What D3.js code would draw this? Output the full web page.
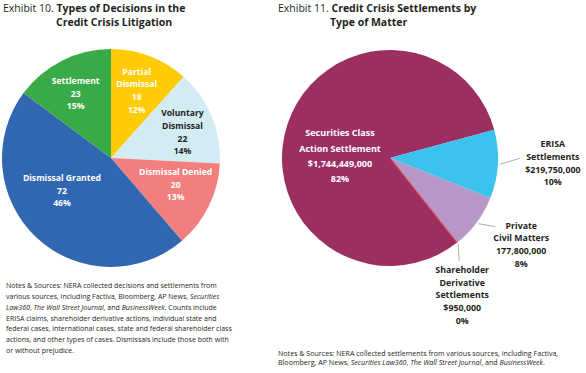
<!DOCTYPE html>
<html>
<head>
<meta charset="utf-8">
<script src="https://cdn.jsdelivr.net/npm/d3@7"></script>
<style>
  body { margin: 0; background: #fff; }
  svg text { font-family: "Open Sans", sans-serif; }
</style>
</head>
<body>
<script>
var w = 586;
var h = 373;

// Exhibit 10 data
var decisionTypes = ["Partial Dismissal", "Voluntary Dismissal", "Dismissal Denied", "Dismissal Granted", "Settlement"];
var decisionCounts = [18, 22, 20, 72, 23];
var decisionPcts = ["12%", "14%", "13%", "46%", "15%"];
var decisionLabels = [["Partial", "Dismissal"], ["Voluntary", "Dismissal"], ["Dismissal Denied"], ["Dismissal Granted"], ["Settlement"]];
var decisionColors = ["#FFCB05", "#D3EBF3", "#F27F7D", "#3067B0", "#39AA48"];
var decisionTextColors = ["#fff", "#231F20", "#fff", "#fff", "#fff"];

// Exhibit 11 data
var matterTypes = ["Securities Class Action Settlement", "ERISA Settlements", "Private Civil Matters", "Shareholder Derivative Settlements"];
var matterValues = [1744449000, 219750000, 177800000, 950000];
var matterPcts = ["82%", "10%", "8%", "0%"];
var matterLabels = [["Securities Class", "Action Settlement", "$1,744,449,000"], ["ERISA", "Settlements", "$219,750,000"], ["Private", "Civil Matters", "177,800,000"], ["Shareholder", "Derivative", "Settlements", "$950,000"]];
var matterColors = ["#9B2F62", "#3BC3EE", "#B697C7", "#E2404B"];

var notesLeft = [
  [["Notes & Sources: NERA collected decisions and settlements from", 0]],
  [["various sources, including Factiva, Bloomberg, AP News, ", 0], ["Securities", 1]],
  [["Law360", 1], [", ", 0], ["The Wall Street Journal", 1], [", and ", 0], ["BusinessWeek", 1], [". Counts include", 0]],
  [["ERISA claims, shareholder derivative actions, individual state and", 0]],
  [["federal cases, international cases, state and federal shareholder class", 0]],
  [["actions, and other types of cases. Dismissals include those both with", 0]],
  [["or without prejudice.", 0]]
];
var notesRight = [
  [["Notes & Sources: NERA collected settlements from various sources, including Factiva,", 0]],
  [["Bloomberg, AP News, ", 0], ["Securities Law360", 1], [", ", 0], ["The Wall Street Journal", 1], [", and ", 0], ["BusinessWeek", 1], [".", 0]]
];

var svg = d3.select("body").append("svg")
  .attr("width", w)
  .attr("height", h);

function textBlock(g, lines, cx, cy, lh, color, size) {
  var t = g.append("text")
    .attr("text-anchor", "middle")
    .attr("font-weight", "bold")
    .attr("font-size", size)
    .attr("fill", color);
  var y0 = cy - (lines.length - 1) * lh / 2;
  lines.forEach(function(l, i) {
    t.append("tspan")
      .attr("x", cx)
      .attr("y", y0 + i * lh)
      .attr("dy", "0.35em")
      .text(l);
  });
  return t;
}

function notes(lines, x, y, lh, size) {
  lines.forEach(function(parts, i) {
    var t = svg.append("text")
      .attr("x", x)
      .attr("y", y + i * lh)
      .attr("dy", "0.35em")
      .attr("font-size", size)
      .attr("fill", "#231F20");
    parts.forEach(function(p) {
      t.append("tspan").attr("font-style", p[1] ? "italic" : "normal").text(p[0]);
    });
  });
}

function title(x1, x2, y, a, b, c) {
  var t = svg.append("text").attr("font-size", 10.5).attr("fill", "#231F20");
  t.append("tspan").attr("x", x1).attr("y", y).text(a);
  t.append("tspan").attr("font-weight", "bold").text(" " + b);
  t.append("tspan").attr("font-weight", "bold").attr("x", x2).attr("y", y + 14.5).text(c);
}

// ---------- Exhibit 10 ----------
title(3, 56, 11.5, "Exhibit 10.", "Types of Decisions in the", "Credit Crisis Litigation");

var r1 = 109;
var pie1 = d3.pie().sort(null)(decisionCounts);
var arc1 = d3.arc().innerRadius(0).outerRadius(r1);
var labelArc1 = d3.arc().innerRadius(72).outerRadius(72);
var nudge1 = [[0, 0], [5, 2], [0, -5], [0, -20], [-3, 0]];

var g1 = svg.append("g").attr("transform", "translate(111,158)");
g1.selectAll("path.slice")
  .data(pie1).enter()
  .append("path")
  .attr("class", "slice")
  .attr("d", arc1)
  .attr("fill", function(d, i) { return decisionColors[i]; });

pie1.forEach(function(d, i) {
  var c = labelArc1.centroid(d);
  var lines = decisionLabels[i].concat([String(decisionCounts[i]), decisionPcts[i]]);
  textBlock(g1, lines, c[0] + nudge1[i][0], c[1] + nudge1[i][1], 12.6, decisionTextColors[i], 8.6);
});

notes(notesLeft, 6, 286, 10.7, 7);

// ---------- Exhibit 11 ----------
title(278, 330, 11.5, "Exhibit 11.", "Credit Crisis Settlements by", "Type of Matter");

var r2 = 108;
var start2 = -218.25 * Math.PI / 180;
var pie2 = d3.pie().sort(null).startAngle(start2).endAngle(start2 + 2 * Math.PI)(matterValues);
var arc2 = d3.arc().innerRadius(0).outerRadius(r2);
var leadArc = d3.arc().innerRadius(110).outerRadius(110);

var g2 = svg.append("g").attr("transform", "translate(390,158)");
g2.selectAll("path.slice")
  .data(pie2).enter()
  .append("path")
  .attr("class", "slice")
  .attr("d", arc2)
  .attr("fill", function(d, i) { return matterColors[i]; })
  .attr("stroke", function(d, i) { return i == 3 ? matterColors[i] : "none"; })
  .attr("stroke-width", 1);

// leader line end offsets and label offsets from line end
var leadEnd = [null, [20, -6], [17, 3], [1, 17]];
var labelOff = [null, [33, 5], [26, 18], [3, 34]];

pie2.forEach(function(d, i) {
  var lines = matterLabels[i].concat([matterPcts[i]]);
  if (i == 0) {
    textBlock(g2, lines, -50, -2, 15.3, "#fff", 9);
    return;
  }
  var s = leadArc.centroid(d);
  var e = [s[0] + leadEnd[i][0], s[1] + leadEnd[i][1]];
  g2.append("line")
    .attr("x1", s[0]).attr("y1", s[1])
    .attr("x2", e[0]).attr("y2", e[1])
    .attr("stroke", "#9a9a9a")
    .attr("stroke-width", 0.8);
  textBlock(g2, lines, e[0] + labelOff[i][0], e[1] + labelOff[i][1], 12.6, "#231F20", 8.8);
});

notes(notesRight, 278, 354, 8.8, 7.1);
</script>
</body>
</html>
